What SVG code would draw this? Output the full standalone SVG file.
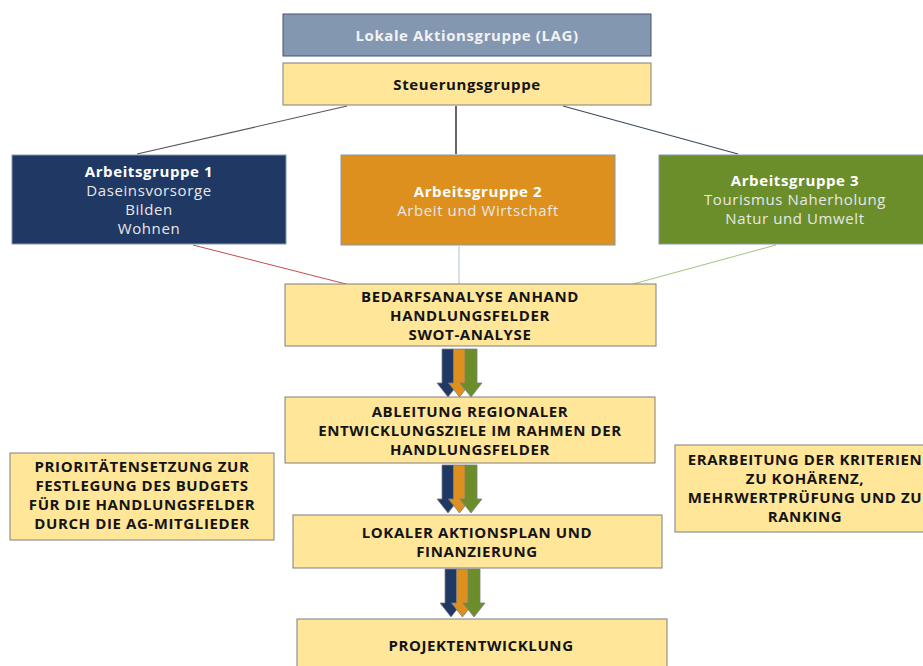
<svg xmlns="http://www.w3.org/2000/svg" width="923" height="666" viewBox="0 0 923 666">
<defs>
<style>
.y{fill:#ffe699;stroke:#7f7f7f;stroke-width:1}
.t{font-family:"Open Sans","Liberation Sans",sans-serif;font-size:15px;letter-spacing:0.6px;font-weight:bold;fill:#141414;text-anchor:middle}
.ag{font-family:"Open Sans","Liberation Sans",sans-serif;font-size:15px;letter-spacing:0.6px;text-anchor:middle;fill:#e8e8e8}
.agb{font-weight:bold;fill:#ffffff}
.ab{fill:#203864;stroke:#8497b0;stroke-width:1}
.ao{fill:#dd901e;stroke:#8497b0;stroke-width:1}
.ag3{fill:#6b8e2b;stroke:#8497b0;stroke-width:1}
</style>
<path id="arr" d="M-6,0 H6 V34 H11 L0,48 L-11,34 H-6 Z"/>
</defs>
<rect width="923" height="666" fill="#ffffff"/>
<g id="connectors" fill="none">
<line x1="347" y1="106" x2="137" y2="154" stroke="#555555" stroke-width="1.2"/>
<line x1="456" y1="106" x2="456" y2="154" stroke="#000000" stroke-width="1.2"/>
<line x1="563" y1="106" x2="738" y2="154" stroke="#3b4a5c" stroke-width="1.2"/>
<line x1="193" y1="245" x2="346" y2="284" stroke="#c0504d" stroke-width="1"/>
<line x1="459" y1="246" x2="459" y2="284" stroke="#a9c0d6" stroke-width="1"/>
<line x1="776" y1="245" x2="633" y2="284" stroke="#9bc77f" stroke-width="1"/>
<g stroke="#7f7f7f" stroke-width="0.8">
<use href="#arr" x="448" y="349" fill="#203864"/>
<use href="#arr" x="459.5" y="349" fill="#dd901e"/>
<use href="#arr" x="471" y="349" fill="#6b8e2b"/>
<use href="#arr" x="448" y="465" fill="#203864"/>
<use href="#arr" x="459.5" y="465" fill="#dd901e"/>
<use href="#arr" x="471" y="465" fill="#6b8e2b"/>
<use href="#arr" x="451" y="569" fill="#203864"/>
<use href="#arr" x="462.5" y="569" fill="#dd901e"/>
<use href="#arr" x="474" y="569" fill="#6b8e2b"/>
</g>
</g>
<g id="lag">
<rect x="283" y="14" width="368" height="42" fill="#8497b0" stroke="#44546a" stroke-width="1"/>
<text x="467" y="41" class="t" style="fill:#f2f2f2">Lokale Aktionsgruppe (LAG)</text>
</g>
<g id="steuerung">
<rect x="283" y="63" width="368" height="42" class="y"/>
<text x="467" y="90" class="t">Steuerungsgruppe</text>
</g>
<g id="ag1">
<rect x="12" y="155" width="274" height="89" class="ab"/>
<text class="ag"><tspan x="149" y="177" class="agb">Arbeitsgruppe 1</tspan><tspan x="149" y="196">Daseinsvorsorge</tspan><tspan x="149" y="215">Bilden</tspan><tspan x="149" y="234">Wohnen</tspan></text>
</g>
<g id="ag2">
<rect x="341" y="155" width="274" height="90" class="ao"/>
<text class="ag"><tspan x="478" y="197" class="agb">Arbeitsgruppe 2</tspan><tspan x="478" y="216">Arbeit und Wirtschaft</tspan></text>
</g>
<g id="ag3">
<rect x="659" y="155" width="270" height="89" class="ag3"/>
<text class="ag"><tspan x="795" y="186" class="agb">Arbeitsgruppe 3</tspan><tspan x="795" y="205">Tourismus  Naherholung</tspan><tspan x="795" y="224">Natur und Umwelt</tspan></text>
</g>
<g id="bedarf">
<rect x="285" y="284" width="371" height="62" class="y"/>
<text class="t"><tspan x="470" y="302">BEDARFSANALYSE ANHAND</tspan><tspan x="470" y="321">HANDLUNGSFELDER</tspan><tspan x="470" y="340">SWOT-ANALYSE</tspan></text>
</g>
<g id="ableitung">
<rect x="285" y="397" width="370" height="66" class="y"/>
<text class="t"><tspan x="470" y="417">ABLEITUNG REGIONALER</tspan><tspan x="470" y="436">ENTWICKLUNGSZIELE IM RAHMEN DER</tspan><tspan x="470" y="455">HANDLUNGSFELDER</tspan></text>
</g>
<g id="prioritaeten">
<rect x="10" y="453" width="264" height="87" class="y"/>
<text class="t"><tspan x="142" y="472">PRIORITÄTENSETZUNG ZUR</tspan><tspan x="142" y="491">FESTLEGUNG DES BUDGETS</tspan><tspan x="142" y="510">FÜR DIE HANDLUNGSFELDER</tspan><tspan x="142" y="529">DURCH DIE AG-MITGLIEDER</tspan></text>
</g>
<g id="erarbeitung">
<rect x="675" y="445" width="260" height="87" class="y"/>
<text class="t"><tspan x="805" y="465">ERARBEITUNG DER KRITERIEN</tspan><tspan x="805" y="484">ZU KOHÄRENZ,</tspan><tspan x="805" y="503">MEHRWERTPRÜFUNG UND ZU</tspan><tspan x="805" y="522">RANKING</tspan></text>
</g>
<g id="aktionsplan">
<rect x="293" y="515" width="369" height="53" class="y"/>
<text class="t"><tspan x="477" y="538">LOKALER AKTIONSPLAN UND</tspan><tspan x="477" y="557">FINANZIERUNG</tspan></text>
</g>
<g id="projekt">
<rect x="297" y="619" width="370" height="52" class="y"/>
<text x="481" y="651" class="t">PROJEKTENTWICKLUNG</text>
</g>
</svg>
